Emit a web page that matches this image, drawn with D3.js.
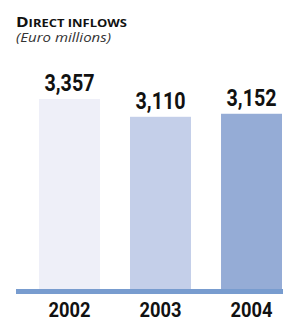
<!DOCTYPE html>
<html>
<head>
<meta charset="utf-8">
<script src="https://cdn.jsdelivr.net/npm/d3@7"></script>
<style>
  body { margin: 0; background: #fff; }
</style>
</head>
<body>
<div id="chart"></div>
<script>
// data
const years = ["2002", "2003", "2004"];
const values = [3357, 3110, 3152];
const valueLabels = ["3,357", "3,110", "3,152"];
const barColors = ["#eeeff8", "#c4cfe9", "#95acd6"];

const width = 283;
const height = 319;
const baseY = 289;

const svg = d3.select("#chart").append("svg")
    .attr("width", width)
    .attr("height", height);

// title
const title = svg.append("text")
    .attr("x", 16)
    .attr("y", 27)
    .attr("textLength", 111)
    .attr("lengthAdjust", "spacingAndGlyphs")
    .style("font-family", "'Open Sans', sans-serif")
    .style("font-weight", "bold")
    .attr("fill", "#111");
title.append("tspan").style("font-size", "14.5px").text("D");
title.append("tspan").style("font-size", "11px").text("IRECT INFLOWS");

svg.append("text")
    .attr("x", 16)
    .attr("y", 42)
    .attr("textLength", 95)
    .attr("lengthAdjust", "spacingAndGlyphs")
    .style("font-family", "'Open Sans', sans-serif")
    .style("font-style", "italic")
    .style("font-size", "13.5px")
    .attr("fill", "#333")
    .text("(Euro millions)");

// scales
const x = d3.scaleBand()
    .domain(years)
    .range([39, 282])
    .paddingInner(0.33)
    .paddingOuter(0);

const y = d3.scaleLinear()
    .domain([720, 3357])
    .range([baseY, 99]);

const data = years.map((yr, i) => ({ year: yr, value: values[i], label: valueLabels[i], color: barColors[i] }));

svg.append("g")
    .selectAll("rect")
    .data(data)
    .join("rect")
    .attr("x", d => x(d.year))
    .attr("y", d => y(d.value))
    .attr("width", x.bandwidth())
    .attr("height", d => baseY - y(d.value))
    .attr("fill", d => d.color);

// value labels
svg.append("g")
    .selectAll("text")
    .data(data)
    .join("text")
    .attr("x", d => x(d.year) + x.bandwidth() / 2)
    .attr("y", d => y(d.value) - 8)
    .attr("text-anchor", "middle")
    .attr("textLength", 50)
    .attr("lengthAdjust", "spacingAndGlyphs")
    .style("font-family", "Roboto, sans-serif")
    .style("font-weight", "bold")
    .style("font-size", "24px")
    .attr("fill", "#111")
    .text(d => d.label);

// baseline bar
svg.append("rect")
    .attr("x", 16)
    .attr("y", baseY)
    .attr("width", width - 16)
    .attr("height", 5)
    .attr("fill", "#789ccf");

// x axis labels
const xAxis = d3.axisBottom(x).tickSize(0).tickPadding(0);
const gx = svg.append("g")
    .attr("transform", `translate(0,${baseY + 28})`)
    .call(xAxis);
gx.select(".domain").remove();
gx.selectAll("text")
    .attr("dy", null)
    .attr("y", 0)
    .attr("textLength", 42)
    .attr("lengthAdjust", "spacingAndGlyphs")
    .style("font-family", "Roboto, sans-serif")
    .style("font-weight", "bold")
    .style("font-size", "20px")
    .attr("fill", "#111");
</script>
</body>
</html>
